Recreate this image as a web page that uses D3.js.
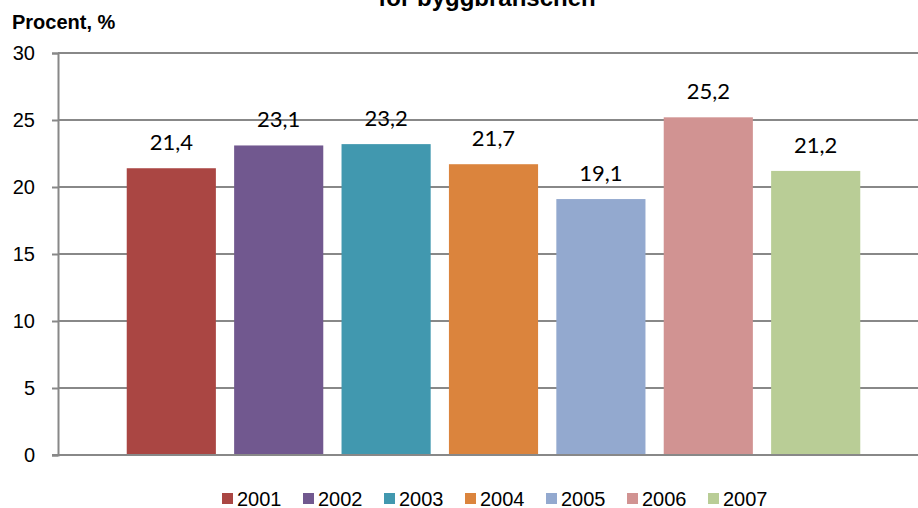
<html lang='en'>
    <head>
        <meta charset='utf-8'>
        <title>byggbranschen</title>
        <script src="https://d3js.org/d3.v7.min.js"></script>
        <style>
            body { margin: 0; background: #fff; }
            svg { display: block; }
        </style>
    </head>
    <body>
        <script>

            var width = 918;
            var height = 508;

            // data
            var years = ['2001', '2002', '2003', '2004', '2005', '2006', '2007'];
            var values = [21.4, 23.1, 23.2, 21.7, 19.1, 25.2, 21.2];
            var colors = ['#aa4643', '#71588f', '#4198af', '#db843d', '#93a9cf', '#d19392', '#b9cd96'];
            var yTicks = [0, 5, 10, 15, 20, 25, 30];

            var svg = d3.select('body')
                        .append('svg')
                        .attr('width', width)
                        .attr('height', height);

            // title, mostly cut off at the top
            svg.append('text')
               .attr('x', 487)
               .attr('y', 6)
               .attr('text-anchor', 'middle')
               .style('font-family', 'Liberation Sans, Arial, sans-serif')
               .style('font-weight', 'bold')
               .style('font-size', '24px')
               .text('för byggbranschen');

            svg.append('text')
               .attr('x', 12)
               .attr('y', 29)
               .style('font-family', 'Liberation Sans, Arial, sans-serif')
               .style('font-weight', 'bold')
               .style('font-size', '20px')
               .text('Procent, %');

            //scales
            var x = d3.scaleBand()
                      .domain(years)
                      .range([58, 929])
                      .paddingInner(0.17)
                      .paddingOuter(0.64);

            var y = d3.scaleLinear()
                      .domain([0, 30])
                      .range([455, 53]);

            // gridlines
            svg.append('g')
               .selectAll('line')
               .data(yTicks.filter(function(d) { return d > 0; }))
               .enter()
               .append('line')
               .attr('x1', 58)
               .attr('x2', width)
               .attr('y1', function(d) { return y(d); })
               .attr('y2', function(d) { return y(d); })
               .attr('stroke', '#888')
               .attr('stroke-width', 2);

            // y axis
            var yAxis = svg.append('g')
                           .attr('transform', 'translate(58,0)')
                           .call(d3.axisLeft(y).tickValues(yTicks).tickSize(6).tickPadding(17));
            yAxis.select('.domain').attr('stroke', '#888').attr('stroke-width', 2);
            yAxis.selectAll('.tick line').attr('stroke', '#888').attr('stroke-width', 2);
            yAxis.selectAll('.tick text')
                 .style('font-family', 'Liberation Sans, Arial, sans-serif')
                 .style('font-size', '20px')
                 .attr('fill', '#000');

            // bars
            svg.append('g')
               .selectAll('rect')
               .data(values)
               .enter()
               .append('rect')
               .attr('x', function(d, i) { return x(years[i]); })
               .attr('y', function(d) { return y(d); })
               .attr('width', x.bandwidth())
               .attr('height', function(d) { return y(0) - y(d); })
               .attr('fill', function(d, i) { return colors[i]; });

            // x axis line
            svg.append('line')
               .attr('x1', 52)
               .attr('x2', width)
               .attr('y1', y(0))
               .attr('y2', y(0))
               .attr('stroke', '#888')
               .attr('stroke-width', 2);

            // value labels
            svg.append('g')
               .selectAll('text')
               .data(values)
               .enter()
               .append('text')
               .attr('x', function(d, i) { return x(years[i]) + x.bandwidth() / 2; })
               .attr('y', function(d) { return y(d) - 18; })
               .attr('text-anchor', 'middle')
               .style('font-family', 'Lato, Carlito, sans-serif')
               .style('font-size', '22px')
               .text(function(d) { return String(d).replace('.', ','); });

            // legend
            var legend = svg.append('g')
                            .selectAll('g')
                            .data(years)
                            .enter()
                            .append('g')
                            .attr('transform', function(d, i) { return 'translate(' + (222 + i * 81) + ',493)'; });
            legend.append('rect')
                  .attr('width', 11)
                  .attr('height', 11)
                  .attr('fill', function(d, i) { return colors[i]; });
            legend.append('text')
                  .attr('x', 15)
                  .attr('y', 13)
                  .style('font-family', 'Liberation Sans, Arial, sans-serif')
                  .style('font-size', '20px')
                  .text(function(d) { return d; });

        </script>
    </body>
</html>
